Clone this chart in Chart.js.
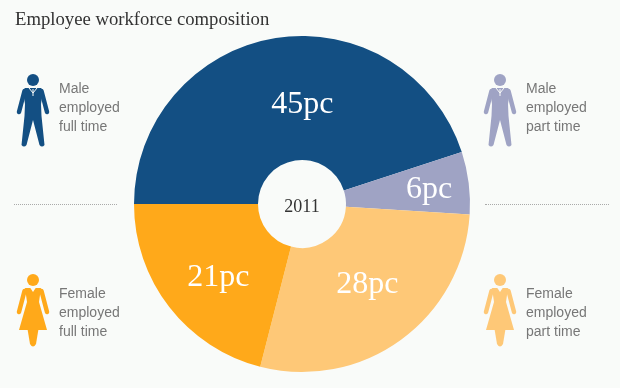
<!DOCTYPE html>
<html>
<head>
<meta charset="utf-8">
<title>Employee workforce composition</title>
<script src="https://cdn.jsdelivr.net/npm/chart.js@4/dist/chart.umd.min.js"></script>
<style>
  html, body { margin: 0; padding: 0; background: #f9fbf9; }
  #wrap { position: relative; width: 620px; height: 388px; overflow: hidden; background: #f9fbf9; }
  #chart { position: absolute; left: 0; top: 0; }
  h1 { position: absolute; left: 15px; top: 8px; margin: 0; font: normal 18.7px "Liberation Serif", serif; color: #333; }
  .rule { position: absolute; top: 204px; border-top: 1px dotted #aaa; }
  .who { position: absolute; width: 90px; font: 14px/19px "Liberation Sans", Arial, sans-serif; color: #777; }
  .icon { position: absolute; width: 40px; height: 80px; }
</style>
</head>
<body>
<div id="wrap">
  <canvas id="chart" width="620" height="388"></canvas>
  <h1>Employee workforce composition</h1>
  <div class="rule" style="left:14px;width:103px"></div>
  <div class="rule" style="left:485px;width:124px"></div>
  <div id="legend"></div>
</div>
<script>
// --- DATA ---
const year = "2011";
const categories = ["Male employed full time", "Male employed part time", "Female employed part time", "Female employed full time"];
const shares = [45, 6, 28, 21];
const colors = ["#134f83", "#9fa3c4", "#fec877", "#ffa91a"];

// --- ICONS ---
function manIcon(color) {
    return `<svg class="icon" viewBox="-20 0 40 80" style="color:${color}">
        <circle cx="0" cy="6" r="6" fill="currentColor"/>
        <path d="M-8 14 L8 14 L10 17 L8 30 L8.5 42 L11.5 71 Q9 74 6.5 71 L0 46 L-6.5 71 Q-9 74 -11.5 71 L-8.5 42 L-8 30 L-10 17Z" fill="currentColor"/>
        <path d="M-8.5 17 L-14 38 M8.5 17 L14 38" stroke="currentColor" stroke-width="4.5" stroke-linecap="round" fill="none"/>
        <path d="M-4 14 L0 19 L4 14" stroke="#f9fbf9" stroke-width="1" fill="none"/>
        <path d="M0 15 L0 22" stroke="#f9fbf9" stroke-width="1" fill="none"/>
    </svg>`;
}

function womanIcon(color) {
    return `<svg class="icon" viewBox="-20 0 40 80" style="color:${color}">
        <circle cx="0" cy="6" r="6" fill="currentColor"/>
        <path d="M-8 14 L8 14 L6 28 L14 56 L-14 56 L-6 28Z" fill="currentColor"/>
        <path d="M-8.5 17 L-14 38 M8.5 17 L14 38" stroke="currentColor" stroke-width="4.5" stroke-linecap="round" fill="none"/>
        <path d="M-5.5 55 L5.5 55 L3 70 Q0 75 -3 70Z" fill="currentColor"/>
        <path d="M-3 13.5 L0 18 L3 13.5Z" fill="#f9fbf9"/>
    </svg>`;
}

// --- LEGEND ---
function addPerson(index, iconX, textX, top, textTop) {
    const parts = categories[index].split(" ");
    const isMan = parts[0] === "Male";
    const icon = isMan ? manIcon(colors[index]) : womanIcon(colors[index]);
    const lines = [parts[0], parts[1], parts.slice(2).join(" ")].join("<br>");
    document.getElementById("legend").innerHTML +=
        `<div style="position:absolute;left:${iconX - 20}px;top:${top}px;width:40px;height:80px">${icon}</div>` +
        `<div class="who" style="left:${textX}px;top:${textTop}px">${lines}</div>`;
}

addPerson(0, 33, 59, 74, 79);
addPerson(1, 500, 526, 74, 79);
addPerson(3, 33, 59, 274, 284);
addPerson(2, 500, 526, 274, 284);

// --- SLICE LABELS ---
// nudges from each arc's centre point, the slices are not labelled at mid radius
const labelNudge = [[17, 5], [22, -1], [3, -5], [0, 9]];

const sliceLabels = {
    id: "sliceLabels",
    afterDraw(chart) {
        const ctx = chart.ctx;
        const arcs = chart.getDatasetMeta(0).data;
        ctx.save();
        ctx.textAlign = "center";
        ctx.textBaseline = "middle";
        ctx.fillStyle = "#fff";
        ctx.font = '32px "Liberation Serif", serif';
        arcs.forEach((arc, i) => {
            const p = arc.getCenterPoint();
            ctx.fillText(shares[i] + "pc", p.x + labelNudge[i][0], p.y + labelNudge[i][1]);
        });
        ctx.fillStyle = "#333";
        ctx.font = '18px "Liberation Serif", serif';
        ctx.fillText(year, arcs[0].x, arcs[0].y + 3);
        ctx.restore();
    }
};

// --- CHART ---
new Chart(document.getElementById("chart").getContext("2d"), {
    type: "doughnut",
    data: {
        labels: categories,
        datasets: [{
            data: shares,
            backgroundColor: colors,
            borderWidth: 0
        }]
    },
    options: {
        responsive: false,
        animation: false,
        rotation: 270,
        cutout: 44,
        layout: { padding: { left: 134, right: 150, top: 36, bottom: 16 } },
        plugins: { legend: { display: false }, tooltip: { enabled: false } }
    },
    plugins: [sliceLabels]
});
</script>
</body>
</html>
